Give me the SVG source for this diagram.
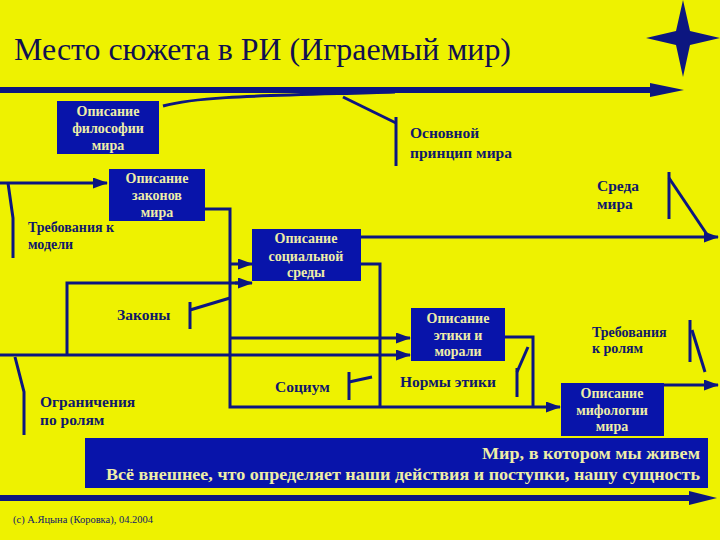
<svg xmlns="http://www.w3.org/2000/svg" width="720" height="540" viewBox="0 0 720 540">
  <defs>
    <marker id="arr" markerUnits="userSpaceOnUse" markerWidth="15" markerHeight="11" refX="14" refY="5.5" orient="auto">
      <path d="M0,0 L15,5.5 L0,11 Z" fill="#0C1680"/>
    </marker>
  </defs>
  <style>
    .bg { fill: #EEF200; }
    .box { fill: #0814AA; }
    .btxt { font-family: "Liberation Serif", "Times New Roman", serif; font-weight: bold; font-size: 14px; fill: #EEEEA8; text-anchor: middle; }
    .lbl { font-family: "Liberation Serif", "Times New Roman", serif; font-weight: bold; font-size: 15.5px; fill: #10186A; }
    .sm { font-size: 14px; }
    .ln { fill: none; stroke: #0C1680; stroke-width: 3; stroke-linejoin: miter; }
    .ar { fill: none; stroke: #0C1680; stroke-width: 3; marker-end: url(#arr); }
    .thick { fill: none; stroke: #0C1680; stroke-width: 6; }
    .title { font-family: "Liberation Serif", "Times New Roman", serif; font-size: 31px; fill: #101050; }
    .big { font-family: "Liberation Serif", "Times New Roman", serif; font-weight: bold; font-size: 17px; fill: #EEEEA8; text-anchor: end; }
  </style>
  <rect class="bg" x="0" y="0" width="720" height="540"/>

  <g id="title">
    <text class="title" x="14" y="60" textLength="497" lengthAdjust="spacingAndGlyphs">Место сюжета в РИ (Играемый мир)</text>
  </g>
  <g id="star">
    <polygon points="683,0 690,31 720,38 690,45 683,77 676,45 646,38 676,31" fill="#0C1680"/>
  </g>

  <g id="connectors">
    <line class="thick" x1="0" y1="90" x2="655" y2="90"/>
    <polygon points="650,83 684,90 650,97" fill="#0C1680"/>
    <path class="ln" stroke-width="2.5" d="M163,106 C200,96 260,96 395,92"/>
    <path class="ln" d="M343,97 L396,123"/>
    <line class="ln" x1="396" y1="117" x2="396" y2="166"/>

    <line class="ar" x1="0" y1="183" x2="107" y2="183"/>
    <path class="ln" d="M8,183 L13,218 L13,258"/>

    <path class="ln" d="M205,209 H230 V407 H545"/>
    <line class="ar" x1="545" y1="407" x2="560" y2="407"/>
    <line class="ar" x1="230" y1="264" x2="252" y2="264"/>
    <path class="ln" d="M67,355 V283 H240"/>
    <line class="ar" x1="235" y1="283" x2="252" y2="283"/>
    <line class="ar" x1="0" y1="355" x2="410" y2="355"/>
    <path class="ln" d="M361,264 H380 V407"/>
    <line class="ar" x1="361" y1="237" x2="718" y2="237"/>
    <line class="ar" x1="230" y1="338" x2="410" y2="338"/>
    <path class="ln" d="M505,337 H533 V407"/>
    <line class="ar" x1="664" y1="385" x2="718" y2="385"/>

    <line class="ln" x1="669" y1="172" x2="669" y2="219"/>
    <path class="ln" d="M669,178 L708,236"/>
    <line class="ln" x1="190" y1="302" x2="190" y2="329"/>
    <path class="ln" d="M190,310 L230,298"/>
    <line class="ln" x1="349" y1="372" x2="349" y2="400"/>
    <path class="ln" d="M349,382 L372,377"/>
    <line class="ln" x1="517" y1="368" x2="517" y2="397"/>
    <path class="ln" d="M517,372 L528,347"/>
    <line class="ln" x1="690" y1="320" x2="690" y2="362"/>
    <path class="ln" d="M692,330 L705,372"/>
    <path class="ln" d="M15,357 L24,392 L24,435"/>

    <line class="thick" x1="0" y1="498" x2="695" y2="498"/>
    <polygon points="689,491 717,498 689,505" fill="#0C1680"/>
  </g>

  <g id="philosophy">
    <rect class="box" x="57" y="101" width="102" height="53"/>
    <text class="btxt" x="108" y="116">Описание</text>
    <text class="btxt" x="108" y="133">философии</text>
    <text class="btxt" x="108" y="150">мира</text>
  </g>
  <g id="laws-desc">
    <rect class="box" x="109" y="169" width="96" height="52"/>
    <text class="btxt" x="157" y="183">Описание</text>
    <text class="btxt" x="157" y="200">законов</text>
    <text class="btxt" x="157" y="217">мира</text>
  </g>
  <g id="social">
    <rect class="box" x="252" y="229" width="109" height="52"/>
    <text class="btxt" x="306" y="243">Описание</text>
    <text class="btxt" x="306" y="261">социальной</text>
    <text class="btxt" x="306" y="277">среды</text>
  </g>
  <g id="ethics">
    <rect class="box" x="411" y="308" width="94" height="53"/>
    <text class="btxt" x="458" y="323">Описание</text>
    <text class="btxt" x="458" y="340">этики и</text>
    <text class="btxt" x="458" y="356">морали</text>
  </g>
  <g id="myth">
    <rect class="box" x="561" y="383" width="103" height="53"/>
    <text class="btxt" x="612" y="398">Описание</text>
    <text class="btxt" x="612" y="415">мифологии</text>
    <text class="btxt" x="612" y="431">мира</text>
  </g>
  <g id="world">
    <rect class="box" x="85" y="438" width="623" height="50"/>
    <text class="big" x="700" y="459" textLength="218" lengthAdjust="spacingAndGlyphs">Мир, в котором мы живем</text>
    <text class="big" x="700" y="480" textLength="594" lengthAdjust="spacingAndGlyphs">Всё внешнее, что определяет наши действия и поступки, нашу сущность</text>
  </g>

  <g id="principle">
    <text class="lbl" x="410" y="138">Основной</text>
    <text class="lbl" x="410" y="158">принцип мира</text>
  </g>
  <g id="environment">
    <text class="lbl" x="597" y="191">Среда</text>
    <text class="lbl" x="597" y="209">мира</text>
  </g>
  <g id="model-req">
    <text class="lbl sm" x="28" y="232">Требования к</text>
    <text class="lbl sm" x="28" y="249">модели</text>
  </g>
  <g id="laws">
    <text class="lbl" x="117" y="320">Законы</text>
  </g>
  <g id="role-limits">
    <text class="lbl" x="40" y="407">Ограничения</text>
    <text class="lbl" x="40" y="425">по ролям</text>
  </g>
  <g id="society">
    <text class="lbl" x="275" y="392">Социум</text>
  </g>
  <g id="norms">
    <text class="lbl" x="400" y="387">Нормы этики</text>
  </g>
  <g id="role-req">
    <text class="lbl sm" x="592" y="337">Требования</text>
    <text class="lbl sm" x="592" y="353">к ролям</text>
  </g>
  <g id="copyright">
    <text x="13" y="523" font-family="Liberation Serif, serif" font-size="10" fill="#10186A" textLength="140" lengthAdjust="spacingAndGlyphs">(c) А.Яцына (Коровка), 04.2004</text>
  </g>
</svg>
